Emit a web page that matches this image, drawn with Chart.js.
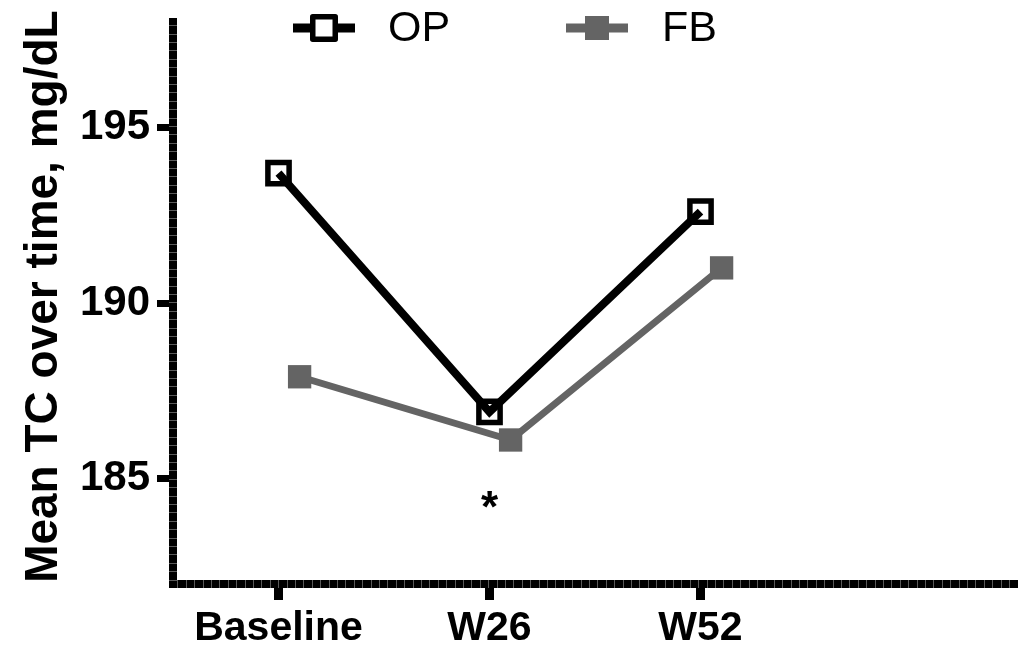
<!DOCTYPE html>
<html lang="en">
  <head>
    <meta charset="UTF-8" />
    <title>Mean TC over time</title>
    <script src="https://cdn.jsdelivr.net/npm/chart.js"></script>
    <style>
      html,
      body {
        margin: 0;
        padding: 0;
        background: #fff;
        overflow: hidden;
      }
      #wrap {
        width: 1025px;
        height: 647px;
      }
      canvas {
        display: block;
      }
    </style>
  </head>
  <body>
    <div id="wrap"><canvas id="plot"></canvas></div>
    <script>
      const timepoints = ["Baseline", "W26", "W52"];
      const opMeans = [193.7, 186.9, 192.6];
      const fbMeans = [187.9, 186.1, 191.0];
      const yTicks = [185, 190, 195];
      const significant = ["W26"]; // timepoints flagged with an asterisk

      const FONT = "'Liberation Sans', Arial, sans-serif";
      const GREY = "#646464";

      // FB points are nudged right so the two series don't sit on top of each other
      const FB_NUDGE = 0.1;
      const toPoints = (vals, dx) => vals.map((y, i) => ({ x: i + dx, y }));

      // no extra room for half-labels at the axis ends, the plot box is fixed
      const noEdgePadding = (s) => {
        s.paddingTop = 0;
        s.paddingBottom = 0;
        s.paddingLeft = 0;
        s.paddingRight = 0;
      };

      /**
       * legend drawn inside the plot: a short line with the marker on it, then the label
       * items[i] = { x0, x1, y, textX } in canvas pixels
       */
      const lineLegend = {
        id: "lineLegend",
        afterDraw(chart, args, opts) {
          const ctx = chart.ctx;
          ctx.save();
          chart.data.datasets.forEach((ds, i) => {
            const it = opts.items[i];
            const cx = (it.x0 + it.x1) / 2;
            ctx.strokeStyle = ds.borderColor;
            ctx.lineWidth = opts.lineWidth;
            ctx.beginPath();
            ctx.moveTo(it.x0, it.y);
            ctx.lineTo(it.x1, it.y);
            ctx.stroke();
            if (ds.pointBackgroundColor === "transparent") {
              // hollow square: clear the inside, then outline
              const s = it.box - ds.pointBorderWidth;
              ctx.fillStyle = "#fff";
              ctx.fillRect(cx - s / 2, it.y - s / 2, s, s);
              ctx.lineJoin = "round";
              ctx.lineWidth = ds.pointBorderWidth;
              ctx.strokeStyle = ds.pointBorderColor;
              ctx.strokeRect(cx - s / 2, it.y - s / 2, s, s);
            } else {
              ctx.fillStyle = ds.pointBackgroundColor;
              ctx.fillRect(cx - it.box / 2, it.y - it.box / 2, it.box, it.box);
            }
            ctx.fillStyle = "#000";
            ctx.font = opts.font;
            ctx.textBaseline = "middle";
            ctx.textAlign = "left";
            ctx.fillText(ds.label, it.textX, it.y + 1);
          });
          ctx.restore();
        },
      };

      // asterisk under the timepoints listed in `significant`
      const sigMarks = {
        id: "sigMarks",
        afterDatasetsDraw(chart, args, opts) {
          const { ctx, scales } = chart;
          ctx.save();
          ctx.font = opts.font;
          ctx.fillStyle = "#000";
          ctx.textAlign = "center";
          ctx.textBaseline = "alphabetic";
          const m = ctx.measureText("*");
          const shift = (m.actualBoundingBoxAscent - m.actualBoundingBoxDescent) / 2;
          significant.forEach((tp) => {
            const x = scales.x.getPixelForValue(timepoints.indexOf(tp));
            const y = scales.y.getPixelForValue(opts.value);
            ctx.fillText("*", x, y + shift);
          });
          ctx.restore();
        },
      };

      // thin seams across the thick axis lines, plus the bottom-left corner
      const axisSeams = {
        id: "axisSeams",
        afterDraw(chart, args, opts) {
          const { ctx, chartArea: a } = chart;
          const half = opts.width / 2;
          ctx.save();
          ctx.fillStyle = "#000";
          ctx.fillRect(a.left - half, a.bottom - 1, opts.width, half + 1);
          ctx.strokeStyle = opts.color;
          ctx.lineWidth = 1;
          ctx.beginPath();
          for (let x = a.left - half + opts.step; x < a.right; x += opts.step) {
            ctx.moveTo(Math.round(x) + 0.5, a.bottom - half);
            ctx.lineTo(Math.round(x) + 0.5, a.bottom + half);
          }
          for (let y = a.bottom + half - opts.step; y > a.top; y -= opts.step) {
            ctx.moveTo(a.left - half, Math.round(y) + 0.5);
            ctx.lineTo(a.left + half, Math.round(y) + 0.5);
          }
          ctx.stroke();
          ctx.restore();
        },
      };

      new Chart(document.getElementById("plot"), {
        type: "scatter",
        data: {
          datasets: [
            {
              label: "OP",
              data: toPoints(opMeans, 0),
              showLine: true,
              borderColor: "#000",
              borderWidth: 8,
              pointStyle: "rect",
              pointRadius: 15,
              pointHoverRadius: 15,
              pointBorderWidth: 5.5,
              pointBorderColor: "#000",
              pointBackgroundColor: "transparent",
              clip: false,
            },
            {
              label: "FB",
              data: toPoints(fbMeans, FB_NUDGE),
              showLine: true,
              borderColor: GREY,
              borderWidth: 7,
              pointStyle: "rect",
              pointRadius: 16.5,
              pointHoverRadius: 16.5,
              pointBorderWidth: 0,
              pointBorderColor: GREY,
              pointBackgroundColor: GREY,
              clip: false,
            },
          ],
        },
        options: {
          responsive: true,
          maintainAspectRatio: false,
          animation: false,
          events: [],
          layout: {
            autoPadding: false,
            padding: { left: 0, top: 22, right: 8, bottom: 0 },
          },
          plugins: {
            legend: { display: false },
            tooltip: { enabled: false },
            lineLegend: {
              lineWidth: 9,
              font: `43px ${FONT}`,
              items: [
                { x0: 293, x1: 355, y: 28, box: 28, textX: 388 },
                { x0: 566, x1: 628, y: 28, box: 24, textX: 662 },
              ],
            },
            sigMarks: { value: 184.4, font: `bold 44px ${FONT}` },
            axisSeams: { width: 8, step: 8.4, color: "#5a5a5a" },
          },
          scales: {
            x: {
              type: "linear",
              min: -0.5,
              max: 3.5,
              afterFit: (s) => {
                s.height = 63;
                noEdgePadding(s);
              },
              afterBuildTicks: (s) => {
                s.ticks = timepoints.map((_, i) => ({ value: i }));
              },
              ticks: {
                autoSkip: false,
                maxRotation: 0,
                padding: 4,
                color: "#000",
                font: { family: FONT, size: 41, weight: "bold" },
                callback: (v) => timepoints[v] ?? "",
              },
              grid: {
                drawOnChartArea: false,
                tickLength: 16,
                tickWidth: 9,
                tickColor: "#000",
              },
              border: { display: true, width: 8, color: "#000" },
            },
            y: {
              min: 182,
              max: 198,
              afterFit: (s) => {
                s.width = 173;
                noEdgePadding(s);
              },
              afterBuildTicks: (s) => {
                s.ticks = yTicks.map((v) => ({ value: v }));
              },
              ticks: {
                padding: 7,
                color: "#000",
                font: { family: FONT, size: 42, weight: "bold" },
              },
              grid: {
                drawOnChartArea: false,
                tickLength: 16,
                tickWidth: 7,
                tickColor: "#000",
              },
              border: { display: true, width: 8, color: "#000" },
              title: {
                display: true,
                // leading space lifts the centred title a little towards the top
                text: " Mean TC over time, mg/dL",
                color: "#000",
                font: { family: FONT, size: 46, weight: "bold" },
                padding: { top: 17, bottom: 0 },
              },
            },
          },
        },
        plugins: [lineLegend, sigMarks, axisSeams],
      });
    </script>
  </body>
</html>
